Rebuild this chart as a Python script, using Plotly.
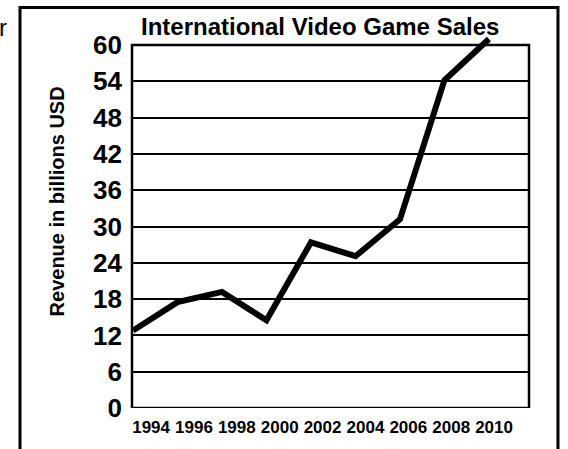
import plotly.graph_objects as go

years = [1994, 1996, 1998, 2000, 2002, 2004, 2006, 2008, 2010]
revenue = [12.8, 17.5, 19.2, 14.5, 27.4, 25.1, 31.2, 54.2, 61.0]
x_tick_years = [1994, 1996, 1998, 2000, 2002, 2004, 2006, 2008, 2010]
x_tick_labels = [str(y) for y in x_tick_years]
y_ticks = [0, 6, 12, 18, 24, 30, 36, 42, 48, 54, 60]

title_text = "International Video Game Sales"
y_title = "Revenue in billions USD"
FONT = "Liberation Sans, Arial, sans-serif"

fig = go.Figure()
fig.add_trace(go.Scatter(
    x=years, y=revenue, mode="lines",
    line=dict(color="black", width=6),
    showlegend=False, hoverinfo="skip",
))
# invisible trace to carry the tick-label axis
fig.add_trace(go.Scatter(
    x=x_tick_years, y=[None] * len(x_tick_years), xaxis="x2",
    mode="lines", showlegend=False, hoverinfo="skip",
))

fig.update_layout(
    width=568, height=449,
    margin=dict(l=132, r=39, t=33, b=33),
    paper_bgcolor="white", plot_bgcolor="white",
    xaxis=dict(range=[1993.955, 2011.8], showgrid=False, zeroline=False,
               showticklabels=False, ticks="", showline=False),
    xaxis2=dict(overlaying="x", side="bottom", range=[1993.11, 2011.63],
                tickvals=x_tick_years, ticktext=x_tick_labels,
                showgrid=False, zeroline=False, showline=False, ticks="",
                ticklabelstandoff=7,
                tickfont=dict(family=FONT, size=17, color="black", weight="bold")),
    yaxis=dict(range=[0, 62], tickvals=y_ticks, showgrid=True,
               gridcolor="black", gridwidth=2, zeroline=False, showline=False,
               ticks="", ticklabelstandoff=9,
               tickfont=dict(family=FONT, size=26, color="black", weight="bold")),
    shapes=[
        dict(type="rect", xref="x domain", yref="y", x0=0, x1=1, y0=0, y1=60,
             line=dict(color="black", width=2.5), layer="above"),
        dict(type="rect", xref="paper", yref="paper", x0=-0.2821, x1=1.0730,
             y0=-0.115, y1=1.0679, line=dict(color="black", width=3)),
    ],
    annotations=[
        dict(text=title_text, xref="paper", yref="paper", x=0.4736, y=1.0183,
             xanchor="center", yanchor="middle", showarrow=False,
             font=dict(family=FONT, size=24, color="black", weight="bold")),
        dict(text=y_title, xref="paper", yref="paper", x=-0.1889, y=0.5509,
             xanchor="center", yanchor="middle", textangle=-90, showarrow=False,
             font=dict(family=FONT, size=20, color="black", weight="bold")),
        dict(text="r", xref="paper", yref="paper", x=-0.3098, y=1.0157,
             xanchor="right", yanchor="middle", showarrow=False,
             font=dict(family=FONT, size=24, color="black")),
    ],
)

fig.write_html("out.html", config={"displayModeBar": False},
               post_script="document.body.style.margin='0px';document.body.style.padding='0px';")
